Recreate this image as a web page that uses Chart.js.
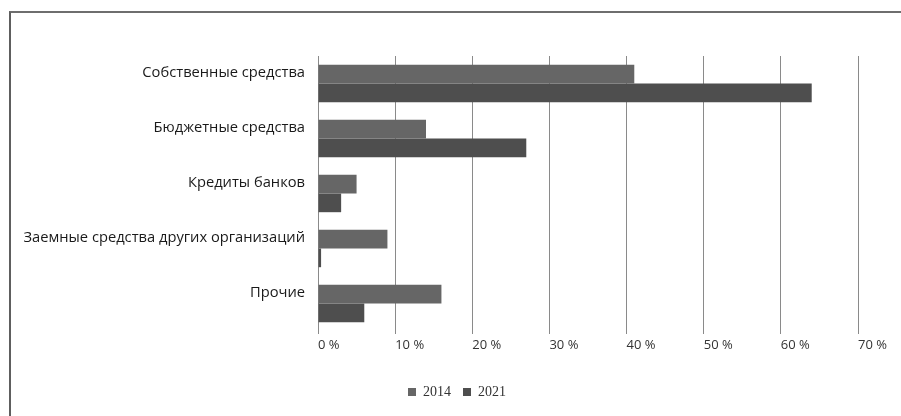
<!DOCTYPE html>
<html>
<head>
<meta charset="utf-8">
<script src="https://cdn.jsdelivr.net/npm/chart.js@4"></script>
<style>
  body { margin: 0; background: #fff; }
  #wrap { position: relative; width: 901px; height: 416px; }
  #frame { position: absolute; left: 9px; top: 11px; right: 0; bottom: 0;
           border-left: 2px solid #5e5e5e; border-top: 2px solid #6e6e6e; pointer-events: none; }
</style>
</head>
<body>
<div id="wrap">
  <canvas id="chart" width="901" height="416"></canvas>
  <div id="frame"></div>
</div>
<script>
const categories = [
    "Собственные средства",
    "Бюджетные средства",
    "Кредиты банков",
    "Заемные средства других организаций",
    "Прочие"
]
const seriesNames = ["2014", "2021"]
const values2014 = [41, 14, 5, 9, 16]
const values2021 = [64, 27, 3, 0.4, 6]
const xTicks = [0, 10, 20, 30, 40, 50, 60, 70]

// y labels are wider than the y box (box is kept narrow so the legend sits right of centre)
const widenLabels = {
    id: 'widenLabels',
    afterLayout(chart) {
        chart.scales.y.left = 12
    }
}

new Chart("chart", {
    type: 'bar',
    data: {
        labels: categories,
        datasets: [{
            label: seriesNames[0],
            data: values2014,
            backgroundColor: "#666666",
            categoryPercentage: 0.68,
            barPercentage: 1
        },
            {
                label: seriesNames[1],
                data: values2021,
                backgroundColor: "#4e4e4e",
                categoryPercentage: 0.68,
                barPercentage: 1
            }
        ]
    },
    plugins: [widenLabels],
    options: {
        indexAxis: 'y',
        responsive: false,
        animation: false,
        layout: {
            padding: { left: 56, top: 56, right: 43, bottom: 7 }
        },
        plugins: {
            legend: {
                position: 'bottom',
                labels: {
                    boxWidth: 8,
                    boxHeight: 8,
                    padding: 12,
                    color: "#333",
                    font: { family: "'Liberation Serif', 'Times New Roman', serif", size: 14 }
                }
            },
            tooltip: { enabled: false }
        },
        scales: {
            x: {
                min: 0,
                max: 70,
                afterBuildTicks: (scale) => { scale.ticks = xTicks.map(v => ({ value: v })) },
                afterFit: (scale) => {
                    scale.height = 42
                    scale.paddingLeft = 0
                    scale.paddingRight = 0
                },
                border: { display: false },
                grid: { color: "#8a8a8a", lineWidth: 1, drawTicks: true, tickLength: 3 },
                ticks: {
                    align: 'start',
                    padding: 3,
                    color: "#333",
                    font: { family: "'Open Sans', sans-serif", size: 13 },
                    callback: (v) => v + " %"
                }
            },
            y: {
                afterFit: (scale) => { scale.width = 262 },
                border: { display: false },
                grid: { display: false },
                ticks: {
                    padding: 5,
                    labelOffset: -11,
                    color: "#1a1a1a",
                    font: { family: "'Open Sans', sans-serif", size: 14.7 }
                }
            }
        }
    }
});
</script>
</body>
</html>
